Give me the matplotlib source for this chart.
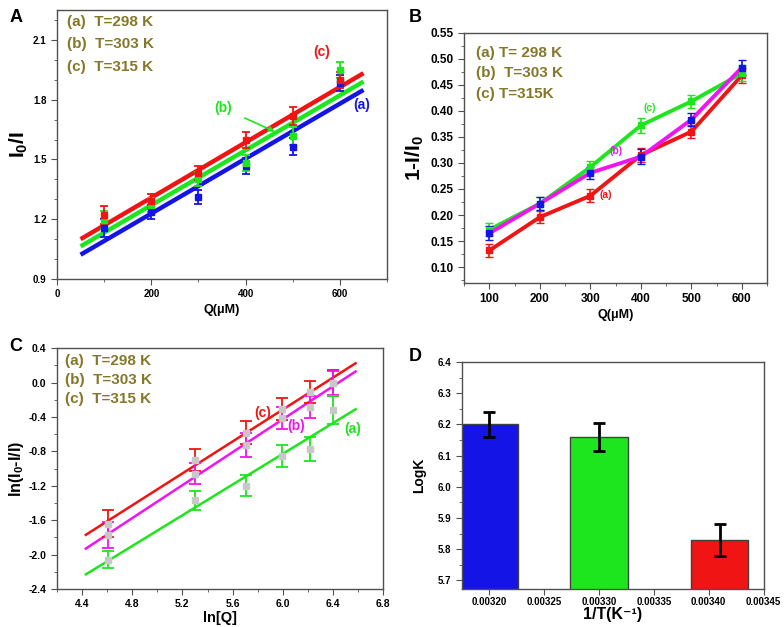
import matplotlib
matplotlib.use("Agg")
import matplotlib.pyplot as plt
from matplotlib.ticker import MultipleLocator, FormatStrFormatter

plt.rcParams["font.family"] = ["Liberation Sans", "DejaVu Sans"]
plt.rcParams["font.weight"] = "bold"
plt.rcParams["mathtext.fontset"] = "custom"
plt.rcParams["mathtext.bf"] = "Liberation Sans:bold"
plt.rcParams["mathtext.rm"] = "Liberation Sans:bold"
plt.rcParams["mathtext.default"] = "bf"

OLIVE = "#86782a"
BLUE = "#1414e6"
GREEN = "#1ee61e"
RED = "#f01414"
MAGENTA = "#f014f0"

# ---- Panel A: Stern-Volmer (I0/I vs Q) ----
conc_a = [100, 200, 300, 400, 500, 600]
a_298 = [1.156, 1.235, 1.31, 1.465, 1.565, 1.886]
a_303 = [1.197, 1.27, 1.40, 1.48, 1.62, 1.95]
a_315 = [1.22, 1.29, 1.43, 1.60, 1.72, 1.90]
a_err = [0.045, 0.035, 0.035, 0.04, 0.045, 0.04]
fit_x_a = [50, 650]
fit_298 = [1.022, 1.849]
fit_303 = [1.064, 1.891]
fit_315 = [1.100, 1.933]

# ---- Panel B: 1-I/I0 vs Q ----
conc_b = [100, 200, 300, 400, 500, 600]
b_a = [0.132, 0.196, 0.237, 0.315, 0.360, 0.468]
b_b = [0.165, 0.222, 0.281, 0.312, 0.383, 0.483]
b_c = [0.172, 0.222, 0.292, 0.372, 0.418, 0.472]
b_err = [0.013, 0.012, 0.012, 0.014, 0.013, 0.015]

# ---- Panel C: double log ----
lnq = [4.605, 5.298, 5.704, 5.991, 6.215, 6.397]
c_a = [-2.06, -1.37, -1.20, -0.85, -0.77, -0.32]
c_b = [-1.77, -1.06, -0.72, -0.41, -0.28, 0.00]
c_c = [-1.64, -0.90, -0.58, -0.31, -0.11, 0.00]
c_err_a = [0.10, 0.11, 0.12, 0.13, 0.14, 0.16]
c_err_b = [0.15, 0.12, 0.14, 0.13, 0.13, 0.14]
c_err_c = [0.16, 0.13, 0.13, 0.13, 0.13, 0.15]
fit_x_c = [4.43, 6.58]
fit_c_a = [-2.23, -0.31]
fit_c_b = [-1.93, 0.13]
fit_c_c = [-1.77, 0.225]

# ---- Panel D: LogK vs 1/T ----
inv_t = [0.00320, 0.00330, 0.00341]
logk = [6.20, 6.16, 5.83]
logk_err = [0.04, 0.045, 0.052]
bar_colors = [BLUE, GREEN, RED]


def style_axes(ax, size):
    for sp in ax.spines.values():
        sp.set_color("#505050")
        sp.set_linewidth(1.0)
    ax.tick_params(which="both", direction="out", top=False, right=False,
                   color="#505050", labelsize=size)
    ax.tick_params(which="major", length=4)
    ax.tick_params(which="minor", length=2)
    for lab in ax.get_xticklabels() + ax.get_yticklabels():
        lab.set_fontweight("bold")


fig = plt.figure(figsize=(7.84, 6.27), dpi=100)

# Panel A
ax = fig.add_axes([0.0727, 0.555, 0.421, 0.429])
ax.plot(fit_x_a, fit_298, color=BLUE, lw=3.2, solid_capstyle="butt")
ax.plot(fit_x_a, fit_303, color=GREEN, lw=3.2, solid_capstyle="butt")
ax.plot(fit_x_a, fit_315, color=RED, lw=3.2, solid_capstyle="butt")
for ys, c in [(a_298, BLUE), (a_303, GREEN), (a_315, RED)]:
    ax.errorbar(conc_a, ys, yerr=a_err, fmt="s", color=c, ms=5, capsize=3,
                elinewidth=1.3, capthick=1.3)
ax.set_xlim(0, 700)
ax.set_ylim(0.9, 2.25)
ax.xaxis.set_major_locator(MultipleLocator(200))
ax.xaxis.set_minor_locator(MultipleLocator(100))
ax.yaxis.set_major_locator(MultipleLocator(0.3))
ax.yaxis.set_minor_locator(MultipleLocator(0.1))
ax.yaxis.set_major_formatter(FormatStrFormatter("%.1f"))
style_axes(ax, 7)
ax.set_xlabel("Q(μM)", fontsize=9, fontweight="bold", labelpad=3)
ax.set_ylabel(r"I$_0$/I", fontsize=15, fontweight="bold", labelpad=2)
for i, t in enumerate(["(a)  T=298 K", "(b)  T=303 K", "(c)  T=315 K"]):
    ax.text(0.03, 0.955 - i * 0.083, t, transform=ax.transAxes, color=OLIVE,
            fontsize=11, fontweight="bold", va="center")
ax.text(562, 2.04, "(c)", color=RED, fontsize=10, fontweight="bold", ha="center", va="center")
ax.text(646, 1.774, "(a)", color=BLUE, fontsize=10, fontweight="bold", ha="center", va="center")
ax.annotate("(b)", xy=(462, 1.64), xytext=(352, 1.757), color=GREEN, fontsize=10,
            fontweight="bold", ha="center", va="center",
            arrowprops=dict(arrowstyle="-|>", color=GREEN, lw=1.2, mutation_scale=8,
                            shrinkA=8, shrinkB=0))
fig.text(0.012, 0.972, "A", fontsize=13, fontweight="bold", va="center")

# Panel B
ax = fig.add_axes([0.592, 0.549, 0.3865, 0.399])
ax.plot(conc_b, b_a, color=RED, lw=2.8)
ax.plot(conc_b, b_c, color=GREEN, lw=2.8)
ax.plot(conc_b, b_b, color=MAGENTA, lw=2.8)
ax.errorbar(conc_b, b_a, yerr=b_err, fmt="s", color=RED, ms=5, capsize=3, elinewidth=1.2)
ax.errorbar(conc_b, b_c, yerr=b_err, fmt="s", color=GREEN, ms=5, capsize=3, elinewidth=1.2)
ax.errorbar(conc_b, b_b, yerr=b_err, fmt="s", color=BLUE, ms=5, capsize=3, elinewidth=1.2)
ax.set_xlim(50, 650)
ax.set_ylim(0.07, 0.55)
ax.xaxis.set_major_locator(MultipleLocator(100))
ax.xaxis.set_minor_locator(MultipleLocator(50))
ax.yaxis.set_major_locator(MultipleLocator(0.05))
ax.yaxis.set_minor_locator(MultipleLocator(0.025))
ax.yaxis.set_major_formatter(FormatStrFormatter("%.2f"))
style_axes(ax, 8.5)
ax.set_xlabel("Q(μM)", fontsize=9, fontweight="bold", labelpad=3)
ax.set_ylabel(r"1-I/I$_0$", fontsize=15, fontweight="bold", labelpad=3)
for i, t in enumerate(["(a) T= 298 K", "(b)  T=303 K", "(c) T=315K"]):
    ax.text(0.04, 0.92 - i * 0.082, t, transform=ax.transAxes, color=OLIVE,
            fontsize=11, fontweight="bold", va="center")
ax.text(418, 0.405, "(c)", color=GREEN, fontsize=7.5, fontweight="bold", ha="center", va="center")
ax.text(350, 0.322, "(b)", color=MAGENTA, fontsize=7.5, fontweight="bold", ha="center", va="center")
ax.text(330, 0.238, "(a)", color=RED, fontsize=7.5, fontweight="bold", ha="center", va="center")
fig.text(0.522, 0.972, "B", fontsize=13, fontweight="bold", va="center")

# Panel C
ax = fig.add_axes([0.0727, 0.0606, 0.416, 0.384])
ax.plot(fit_x_c, fit_c_c, color=RED, lw=1.8)
ax.plot(fit_x_c, fit_c_b, color=MAGENTA, lw=1.8)
ax.plot(fit_x_c, fit_c_a, color=GREEN, lw=1.8)
for ys, e, c in [(c_c, c_err_c, RED), (c_b, c_err_b, MAGENTA), (c_a, c_err_a, GREEN)]:
    ax.errorbar(lnq, ys, yerr=e, fmt="none", ecolor=c, capsize=4, elinewidth=1.3,
                capthick=1.3)
    ax.plot(lnq, ys, "s", color="#c8c8c8", ms=5, zorder=3)
ax.set_xlim(4.2, 6.8)
ax.set_ylim(-2.4, 0.4)
ax.xaxis.set_major_locator(MultipleLocator(0.4))
ax.xaxis.set_minor_locator(MultipleLocator(0.2))
ax.yaxis.set_major_locator(MultipleLocator(0.4))
ax.yaxis.set_minor_locator(MultipleLocator(0.2))
ax.xaxis.set_major_formatter(FormatStrFormatter("%.1f"))
ax.yaxis.set_major_formatter(FormatStrFormatter("%.1f"))
style_axes(ax, 7.5)
ax.set_xlabel("ln[Q]", fontsize=10.5, fontweight="bold", labelpad=1)
ax.set_ylabel(r"ln(I$_0$-I/I)", fontsize=11.5, fontweight="bold", labelpad=2)
for i, t in enumerate(["(a)  T=298 K", "(b)  T=303 K", "(c)  T=315 K"]):
    ax.text(0.025, 0.945 - i * 0.077, t, transform=ax.transAxes, color=OLIVE,
            fontsize=11, fontweight="bold", va="center")
ax.text(5.84, -0.355, "(c)", color=RED, fontsize=10, fontweight="bold", ha="center", va="center")
ax.text(6.11, -0.51, "(b)", color=MAGENTA, fontsize=10, fontweight="bold", ha="center", va="center")
ax.text(6.56, -0.54, "(a)", color=GREEN, fontsize=10, fontweight="bold", ha="center", va="center")
fig.text(0.012, 0.447, "C", fontsize=13, fontweight="bold", va="center")

# Panel D
ax = fig.add_axes([0.589, 0.0606, 0.385, 0.362])
ax.bar(inv_t, logk, width=0.000052, color=bar_colors, edgecolor="#404040",
       linewidth=1.0, bottom=0)
ax.errorbar(inv_t, logk, yerr=logk_err, fmt="none", ecolor="black", capsize=4,
            elinewidth=2, capthick=2)
ax.set_xlim(0.003175, 0.00345)
ax.set_ylim(5.672, 6.4)
ax.xaxis.set_major_locator(MultipleLocator(0.00005))
ax.yaxis.set_major_locator(MultipleLocator(0.1))
ax.yaxis.set_minor_locator(MultipleLocator(0.05))
ax.xaxis.set_major_formatter(FormatStrFormatter("%.5f"))
ax.yaxis.set_major_formatter(FormatStrFormatter("%.1f"))
style_axes(ax, 7)
ax.tick_params(axis="x", pad=2)
ax.set_xlabel("1/T(K⁻¹)", fontsize=11.5, fontweight="bold")
ax.xaxis.set_label_coords(0.5, -0.078)
ax.xaxis.label.set_va("top")
ax.set_ylabel("LogK", fontsize=10, fontweight="bold", labelpad=8)
fig.text(0.522, 0.432, "D", fontsize=13, fontweight="bold", va="center")

fig.savefig("out.png", dpi=100)
